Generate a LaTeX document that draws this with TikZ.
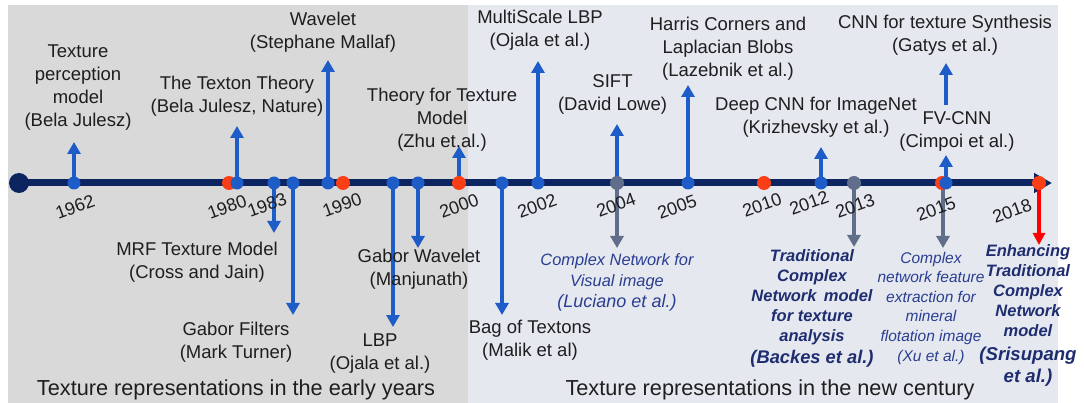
\documentclass[tikz,border=0pt]{standalone}
\usepackage{fontspec}
\setmainfont{Liberation Sans}
\usetikzlibrary{arrows.meta}

\definecolor{earlybg}{RGB}{217,217,217}
\definecolor{newbg}{RGB}{229,232,239}
\definecolor{axisnavy}{RGB}{12,36,96}
\definecolor{eventblue}{RGB}{30,92,200}
\definecolor{milered}{RGB}{250,62,22}
\definecolor{netgray}{RGB}{96,110,138}
\definecolor{netnavy}{RGB}{30,45,112}
\definecolor{netblue}{RGB}{42,62,145}
\definecolor{inktext}{RGB}{30,30,30}

\tikzset{
  stem/.style={line width=4pt, -{Triangle[width=13pt,length=12pt]}},
  upstem/.style={stem, draw=eventblue, fill=eventblue},
  graystem/.style={stem, draw=netgray, fill=netgray},
  redstem/.style={line width=3.5pt, draw=red, fill=red, -{Triangle[width=12pt,length=12pt]}},
  bdot/.style={circle, fill=eventblue, minimum size=13pt, inner sep=0pt},
  rdot/.style={circle, fill=milered, minimum size=14pt, inner sep=0pt},
  gdot/.style={circle, fill=netgray, minimum size=14pt, inner sep=0pt},
  lbl/.style={font=\fontsize{18.5}{23}\selectfont, align=center, inner sep=0pt, text=inktext},
  yr/.style={font=\fontsize{18}{20}\selectfont, rotate=20, inner sep=0pt, text=inktext},
  netlbl/.style={font=\fontsize{16.4}{21}\selectfont\itshape, align=center, inner sep=0pt, text=netblue},
  xulbl/.style={font=\fontsize{15.5}{19.6}\selectfont\itshape, align=center, inner sep=0pt, text=netblue},
  boldlbl/.style={font=\fontsize{16.5}{20}\selectfont\bfseries\itshape, align=center, inner sep=0pt, text=netnavy},
  eralbl/.style={font=\fontsize{21.7}{24}\selectfont, inner sep=0pt, text=inktext},
}

\begin{document}
\begin{tikzpicture}[x=1pt,y=-1pt]
\useasboundingbox (0,0) rectangle (1084,403);

% era panels
\fill[earlybg] (8,5) rectangle (468,403);
\fill[newbg] (468,5) rectangle (1058,403);

% axis
\node[circle, fill=axisnavy, minimum size=20pt, inner sep=0pt] (origin) at (19,183) {};
\coordinate (axisend) at (1052,183);
\draw[axisnavy, line width=7pt, -{Triangle[width=19pt,length=18pt]}] (origin.center) -- (axisend);

% event positions on the axis
\coordinate (p1962) at (74,183);
\coordinate (r1980) at (229,183);
\coordinate (p1980) at (237,183);
\coordinate (p1983a) at (274,183);
\coordinate (p1983b) at (293,183);
\coordinate (p1989) at (328,183);
\coordinate (r1990) at (343,183);
\coordinate (p1996a) at (393,183);
\coordinate (p1996b) at (418,183);
\coordinate (r2000) at (459,183);
\coordinate (p2001) at (502,183);
\coordinate (p2002) at (538,183);
\coordinate (g2004) at (617,183);
\coordinate (p2005) at (688,183);
\coordinate (r2010) at (764,183);
\coordinate (p2012) at (821,183);
\coordinate (g2013) at (854,183);
\coordinate (r2015) at (942,183);
\coordinate (p2015) at (946,183);
\coordinate (r2018) at (1039,183);

% arrow ends
\coordinate (t1962) at (74,142);
\coordinate (t1980) at (237,126);
\coordinate (t1983a) at (274,233);
\coordinate (t1983b) at (293,315);
\coordinate (t1989) at (328,60);
\coordinate (t1996a) at (393,327);
\coordinate (t1996b) at (418,248);
\coordinate (t2000) at (459,146);
\coordinate (t2001) at (502,315);
\coordinate (t2002) at (538,61);
\coordinate (t2004up) at (617,124);
\coordinate (t2004dn) at (617,248);
\coordinate (t2005) at (688,85);
\coordinate (t2012) at (821,147);
\coordinate (t2013) at (854,247);
\coordinate (t2015up) at (946,155);
\coordinate (s2015dn) at (943,183);
\coordinate (t2015dn) at (943,248);
\coordinate (gatysfrom) at (946,105);
\coordinate (gatysto) at (946,63);
\coordinate (t2018) at (1039,245);

% connectors
\draw[upstem] (p1962) -- (t1962);
\draw[upstem] (p1980) -- (t1980);
\draw[upstem] (p1983a) -- (t1983a);
\draw[upstem] (p1983b) -- (t1983b);
\draw[upstem] (p1989) -- (t1989);
\draw[upstem] (p1996a) -- (t1996a);
\draw[upstem] (p1996b) -- (t1996b);
\draw[upstem] (r2000) -- (t2000);
\draw[upstem] (p2001) -- (t2001);
\draw[upstem] (p2002) -- (t2002);
\draw[upstem] (g2004) -- (t2004up);
\draw[graystem] (g2004) -- (t2004dn);
\draw[upstem] (p2005) -- (t2005);
\draw[upstem] (p2012) -- (t2012);
\draw[graystem] (g2013) -- (t2013);
\draw[graystem] (s2015dn) -- (t2015dn);
\draw[upstem] (p2015) -- (t2015up);
\draw[upstem] (gatysfrom) -- (gatysto);
\draw[redstem] (r2018) -- (t2018);

% dots
\node[rdot] (d1980r) at (r1980) {};
\node[bdot] (d1962) at (p1962) {};
\node[bdot] (d1980) at (p1980) {};
\node[bdot] (d1983a) at (p1983a) {};
\node[bdot] (d1983b) at (p1983b) {};
\node[bdot] (d1989) at (p1989) {};
\node[rdot] (d1990) at (r1990) {};
\node[bdot] (d1996a) at (p1996a) {};
\node[bdot] (d1996b) at (p1996b) {};
\node[rdot] (d2000) at (r2000) {};
\node[bdot] (d2001) at (p2001) {};
\node[bdot] (d2002) at (p2002) {};
\node[gdot] (d2004) at (g2004) {};
\node[bdot] (d2005) at (p2005) {};
\node[rdot] (d2010) at (r2010) {};
\node[bdot] (d2012) at (p2012) {};
\node[gdot] (d2013) at (g2013) {};
\node[rdot] (d2015r) at (r2015) {};
\node[bdot] (d2015) at (p2015) {};
\node[rdot] (d2018) at (r2018) {};

% years
\node[yr] (y1962) at (75,207) {1962};
\node[yr] (y1980) at (227,207) {1980};
\node[yr] (y1983) at (267,205) {1983};
\node[yr] (y1990) at (342,205) {1990};
\node[yr] (y2000) at (459,206) {2000};
\node[yr] (y2002) at (537,206) {2002};
\node[yr] (y2004) at (616,205) {2004};
\node[yr] (y2005) at (677,207) {2005};
\node[yr] (y2010) at (762,205) {2010};
\node[yr] (y2012) at (809,203) {2012};
\node[yr] (y2013) at (855,206) {2013};
\node[yr] (y2015) at (936,209) {2015};
\node[yr] (y2018) at (1012,211) {2018};

% labels above the axis
\node[lbl] (l1962) at (78,88) {Texture\\perception\\model\\(Bela Julesz)};
\node[lbl] (l1980) at (237,96.5) {The Texton Theory\\(Bela Julesz, Nature)};
\node[lbl] (l1989) at (323,32) {Wavelet\\(Stephane Mallaf)};
\node[lbl] (l2000) at (442,120) {Theory for Texture\\Model\\(Zhu et.al.)};
\node[lbl] (l2002) at (540,30.5) {MultiScale LBP\\(Ojala et al.)};
\node[lbl] (l2004up) at (612.5,94) {SIFT\\(David Lowe)};
\node[lbl] (l2005) at (728,48.5) {Harris Corners and\\Laplacian Blobs\\(Lazebnik et al.)};
\node[lbl] (l2012) at (816,117.5) {Deep CNN for ImageNet\\(Krizhevsky et al.)};
\node[lbl] (lgatys) at (945,35) {CNN for texture Synthesis\\(Gatys et al.)};
\node[lbl] (l2015up) at (957,131) {FV-CNN\\(Cimpoi et al.)};

% labels below the axis
\node[lbl] (l1983a) at (197,262.5) {MRF Texture Model\\(Cross and Jain)};
\node[lbl] (l1983b) at (236,342) {Gabor Filters\\(Mark Turner)};
\node[lbl] (l1996a) at (380,354) {LBP\\(Ojala et al.)};
\node[lbl] (l1996b) at (419,269) {Gabor Wavelet\\(Manjunath)};
\node[lbl] (l2001) at (530,340) {Bag of Textons\\(Malik et al)};
\node[netlbl] (l2004dn) at (617,282) {Complex Network for\\Visual image\\{\fontsize{18}{21}\selectfont(Luciano et al.)}};
\node[boldlbl] (l2013) at (812,308) {Traditional\\Complex\\Network\, model\\for texture\\analysis\\[2pt]{\fontsize{18.3}{22}\selectfont(Backes et al.)}};
\node[xulbl] (l2015dn) at (931,308) {Complex\\network feature\\extraction for\\mineral\\flotation image\\(Xu et al.)};
\node[boldlbl] (l2018) at (1028,315) {Enhancing\\Traditional\\Complex\\Network\\model\\[4pt]{\fontsize{18.6}{22}\selectfont(Srisupang}\\[2pt]{\fontsize{18.6}{22}\selectfont et al.)}};

% era captions
\node[eralbl] (early) at (236,390) {Texture representations in the early years};
\node[eralbl] (modern) at (770,390) {Texture representations in the new century};
\end{tikzpicture}
\end{document}
